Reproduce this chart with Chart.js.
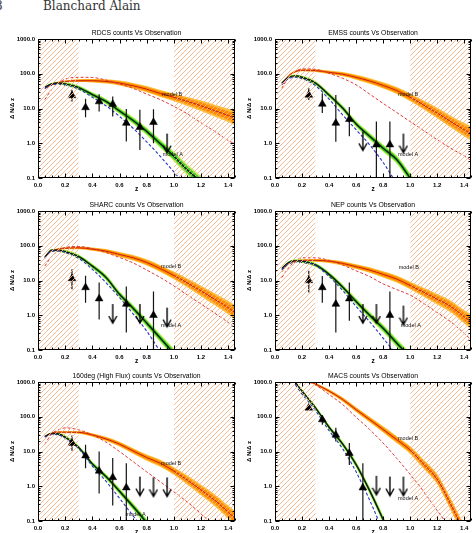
<!DOCTYPE html>
<html>
<head>
<meta charset="utf-8">
<script src="https://cdn.jsdelivr.net/npm/chart.js"></script>
<style>
  body { margin: 0; width: 476px; height: 533px; overflow: hidden; position: relative; background: #fff; }
  canvas { position: absolute; }
  .hdr { position: absolute; top: 0; font: 12px "DejaVu Serif", serif; color: #333; line-height: 12px; white-space: nowrap; }
</style>
</head>
<body>
<div class="hdr" style="left:-5px">8</div>
<div class="hdr" style="left:43px">Blanchard Alain</div>
<canvas id="c0" width="240" height="167" style="left:0;top:26px"></canvas>
<canvas id="c1" width="236" height="167" style="left:240px;top:26px"></canvas>
<canvas id="c2" width="240" height="167" style="left:0;top:198px"></canvas>
<canvas id="c3" width="236" height="167" style="left:240px;top:198px"></canvas>
<canvas id="c4" width="240" height="167" style="left:0;top:369px"></canvas>
<canvas id="c5" width="236" height="167" style="left:240px;top:369px"></canvas>
<script>
// redshift grid for the model curves
const Z = [0.05, 0.1, 0.15, 0.2, 0.3, 0.4, 0.5, 0.6, 0.7, 0.8, 0.9, 1.0, 1.1, 1.2, 1.3, 1.4, 1.45];

// band half widths (dex)
const bandA = [0.03, 0.03, 0.04, 0.05, 0.06, 0.07, 0.08, 0.09, 0.1, 0.11, 0.12, 0.14, 0.16, 0.18, 0.2, 0.22, 0.22];
const bandB = [0.02, 0.02, 0.03, 0.03, 0.04, 0.05, 0.06, 0.07, 0.08, 0.09, 0.1, 0.11, 0.13, 0.15, 0.17, 0.19, 0.21];

const xTicks = [0, 0.2, 0.4, 0.6, 0.8, 1.0, 1.2, 1.4];
const xMinor = [0.05, 0.1, 0.15, 0.25, 0.3, 0.35, 0.45, 0.5, 0.55, 0.65, 0.7, 0.75, 0.85, 0.9, 0.95, 1.05, 1.1, 1.15, 1.25, 1.3, 1.35, 1.45];
const yTicks = [0.1, 1, 10, 100, 1000];
const yMinor = [0.2, 0.3, 0.4, 0.5, 0.6, 0.7, 0.8, 0.9, 2, 3, 4, 5, 6, 7, 8, 9, 20, 30, 40, 50, 60, 70, 80, 90, 200, 300, 400, 500, 600, 700, 800, 900];
const hatchLeft = [0, 0.3];
const hatchRight = [1.0, 1.45];

// RDCS
const rdcsB = [38, 48, 56, 60, 63, 63, 60, 54, 45, 36, 27, 21, 16, 12, 8.7, 6.3, 5.3];
const rdcsRed = [18, 35, 54, 70, 79, 78, 66, 51, 38, 26, 18, 11.5, 7.0, 3.9, 2.2, 1.2, 0.95];
const rdcsA = [41, 51, 54, 51, 40, 25, 16, 8.5, 4.5, 2.2, 0.97, 0.42, 0.17, 0.075, 0.03, 0.012, 0.008];
const rdcsBlue = [38, 47, 50, 47, 36, 21, 12, 5.9, 2.7, 1.1, 0.42, 0.15, 0.05, 0.015, 0.005, 0.002, 0.001];
const rdcsZ = [0.25, 0.35, 0.45, 0.55, 0.65, 0.75, 0.85];
const rdcsV = [23.6, 10.7, 15.8, 13.3, 3.8, 2.9, 4.0];
const rdcsHi = [34, 19, 25.7, 22, 9.6, 9.2, 9.5];
const rdcsLo = [15.8, 5.6, 8.2, 5.9, 1.13, 0.64, 1.0];
const rdcsUlZ = [0.95];
const rdcsUlV = [1.9];

// EMSS
const emssB = [48, 87, 115, 126, 123, 110, 97, 79, 62, 46, 33, 21, 12.6, 7.4, 4.2, 2.45, 1.9];
const emssRed = [38, 79, 115, 138, 134, 103, 74, 48, 26, 14, 7.7, 4.2, 2.3, 1.26, 0.72, 0.43, 0.32];
const emssA = [54, 79, 87, 79, 54, 24.5, 10.3, 3.6, 1.6, 0.72, 0.34, 0.1, 0.03, 0.01, 0.003, 0.001, 0.0005];
const emssBlue = [50, 72, 79, 72, 45, 18.6, 6.6, 2.45, 0.9, 0.28, 0.07, 0.02, 0.006, 0.002, 0.001, 0.0005, 0.0003];
const emssZ = [0.25, 0.35, 0.45, 0.55, 0.75, 0.85];
const emssV = [24.5, 13.5, 3.8, 4.9, 0.91, 0.91];
const emssHi = [38, 27.5, 24.5, 11, 4.2, 4.2];
const emssLo = [17.7, 7.4, 1.1, 1.6, 0.03, 0.03];
const emssUlZ = [0.65, 0.95];
const emssUlV = [2.2, 1.9];

// SHARC
const sharcB = [49, 69, 80, 85, 87, 80, 70, 56, 45, 33, 22, 14, 8.5, 5, 2.9, 1.66, 1.2];
const sharcRed = [26, 49, 72, 89, 95, 83, 64, 46, 32, 20, 12.2, 7.0, 3.8, 2.1, 1.15, 0.62, 0.44];
const sharcA = [46, 75, 74, 68, 49, 26, 12.3, 4.0, 1.6, 0.6, 0.22, 0.08, 0.03, 0.01, 0.004, 0.001, 0.0005];
const sharcBlue = [44, 70, 70, 64, 43, 21, 8.7, 3.2, 1.1, 0.35, 0.09, 0.025, 0.008, 0.003, 0.001, 0.0005, 0.0003];
const sharcZ = [0.25, 0.35, 0.45, 0.65, 0.85];
const sharcV = [11.4, 6.3, 3.0, 2.1, 1.0];
const sharcHi = [21, 13.6, 8.7, 6.7, 4.8];
const sharcLo = [5.6, 2.3, 0.76, 0.32, 0.03];
const sharcUlZ = [0.55, 0.75, 0.95];
const sharcUlV = [2.1, 2.1, 1.66];

// NEP
const nepB = [18, 30, 36, 38, 38, 36, 31, 25, 20, 15, 11, 7.2, 4.6, 2.9, 1.8, 0.9, 0.66];
const nepRed = [12, 23, 36, 45, 45, 38, 28, 19, 13, 8, 5.5, 3.8, 2.2, 1.2, 0.65, 0.3, 0.2];
const nepA = [22, 33, 37, 36, 28, 15, 6.5, 2.5, 1.0, 0.42, 0.16, 0.06, 0.02, 0.007, 0.002, 0.001, 0.0005];
const nepBlue = [20, 30, 34, 33, 27, 13, 5.2, 1.8, 0.65, 0.22, 0.07, 0.02, 0.006, 0.002, 0.001, 0.0005, 0.0003];
const nepZ = [0.25, 0.35, 0.45, 0.55, 0.85];
const nepV = [10, 6.3, 2.1, 3.0, 1.0];
const nepHi = [19, 13.5, 9.8, 8.7, 4.8];
const nepLo = [4.5, 2.3, 0.32, 0.7, 0.03];
const nepUlZ = [0.65, 0.75, 0.95];
const nepUlV = [2.1, 2.1, 1.9];

// 160deg (High Flux)
const degB = [27, 34, 36, 36, 35.6, 30, 23, 16.3, 10.4, 6.7, 4.6, 2.75, 1.5, 0.78, 0.4, 0.18, 0.12];
const degRed = [16, 32, 42, 48, 42, 30, 18.7, 10, 5.1, 2.6, 1.35, 0.69, 0.35, 0.16, 0.07, 0.03, 0.02];
const degA = [27, 33, 32, 26, 13, 4.4, 1.9, 0.72, 0.26, 0.09, 0.03, 0.01, 0.003, 0.001, 0.0005, 0.0003, 0.0002];
const degBlue = [26, 31, 30, 24, 12, 3.8, 1.4, 0.45, 0.14, 0.045, 0.015, 0.005, 0.002, 0.001, 0.0005, 0.0003, 0.0002];
const degZ = [0.25, 0.35, 0.45, 0.55, 0.65];
const degV = [17.4, 7.6, 2.75, 1.8, 0.91];
const degHi = [29, 15.6, 10, 6.5, 4.6];
const degLo = [10.5, 3.3, 0.62, 0.28, 0.03];
const degUlZ = [0.75, 0.85, 0.95];
const degUlV = [1.9, 1.8, 1.8];

// MACS
const macsB = [2500, 2100, 1700, 1350, 870, 550, 315, 160, 83, 43, 22, 11, 4.3, 1.6, 0.3, 0.05, 0.02];
const macsRed = [4000, 3000, 2000, 1300, 820, 440, 225, 97, 43, 17.5, 6.4, 2.2, 0.7, 0.2, 0.06, 0.02, 0.01];
const macsA = [6000, 2500, 1000, 550, 180, 50, 16.5, 4.2, 0.75, 0.11, 0.015, 0.002, 0.0005, 0.0002, 0.0001, 0.0001, 0.0001];
const macsBlue = [5000, 2000, 850, 450, 150, 40, 12, 2.6, 0.4, 0.05, 0.006, 0.001, 0.0005, 0.0002, 0.0001, 0.0001, 0.0001];
const macsZ = [0.25, 0.35, 0.45, 0.55, 0.65];
const macsV = [180, 83, 30, 8.9, 0.91];
const macsHi = [200, 108, 48, 17.5, 4.6];
const macsLo = [160, 59, 19.5, 4.1, 0.03];
const macsUlZ = [0.75, 0.85, 0.95];
const macsUlV = [2.0, 1.9, 1.9];

const panels = [
  { id: 'c0', title: 'RDCS counts Vs Observation', A: rdcsA, B: rdcsB, red: rdcsRed, blue: rdcsBlue,
    pz: rdcsZ, pv: rdcsV, hi: rdcsHi, lo: rdcsLo, uz: rdcsUlZ, uv: rdcsUlV, labB: [0.913, 25], labA: [0.918, 0.48] },
  { id: 'c1', title: 'EMSS counts Vs Observation', A: emssA, B: emssB, red: emssRed, blue: emssBlue,
    pz: emssZ, pv: emssV, hi: emssHi, lo: emssLo, uz: emssUlZ, uv: emssUlV, labB: [0.91, 24.5], labA: [0.91, 0.49] },
  { id: 'c2', title: 'SHARC counts Vs Observation', A: sharcA, B: sharcB, red: sharcRed, blue: sharcBlue,
    pz: sharcZ, pv: sharcV, hi: sharcHi, lo: sharcLo, uz: sharcUlZ, uv: sharcUlV, labB: [0.906, 25], labA: [0.906, 0.5] },
  { id: 'c3', title: 'NEP counts Vs Observation', A: nepA, B: nepB, red: nepRed, blue: nepBlue,
    pz: nepZ, pv: nepV, hi: nepHi, lo: nepLo, uz: nepUlZ, uv: nepUlV, labB: [0.915, 23], labA: [0.93, 0.52] },
  { id: 'c4', title: '160deg (High Flux) counts Vs Observation', A: degA, B: degB, red: degRed, blue: degBlue,
    pz: degZ, pv: degV, hi: degHi, lo: degLo, uz: degUlZ, uv: degUlV, labB: [0.906, 4.6], labA: [0.644, 0.155] },
  { id: 'c5', title: 'MACS counts Vs Observation', A: macsA, B: macsB, red: macsRed, blue: macsBlue,
    pz: macsZ, pv: macsV, hi: macsHi, lo: macsLo, uz: macsUlZ, uv: macsUlV, labB: [0.91, 24], labA: [0.91, 0.45] }
];

function makeHatch(ctx) {
  const s = 5;
  const c = document.createElement('canvas');
  c.width = s; c.height = s;
  const g = c.getContext('2d');
  g.strokeStyle = '#f5b48a';
  g.lineWidth = 0.9;
  g.beginPath();
  g.moveTo(0, s); g.lineTo(s, 0);
  g.moveTo(-1, 1); g.lineTo(1, -1);
  g.moveTo(s - 1, s + 1); g.lineTo(s + 1, s - 1);
  g.stroke();
  return ctx.createPattern(c, 'repeat');
}

function makeArrow() {
  const c = document.createElement('canvas');
  c.width = 10; c.height = 42;
  const g = c.getContext('2d');
  g.strokeStyle = '#000';
  g.lineWidth = 1.4;
  g.beginPath();
  g.moveTo(5, 21); g.lineTo(5, 40);
  g.moveTo(1, 33); g.lineTo(5, 40); g.lineTo(9, 33);
  g.stroke();
  return c;
}
const arrowImg = makeArrow();

const decor = {
  id: 'decor',
  afterDraw(chart, args, o) {
    const { ctx, chartArea: a, scales: { x, y } } = chart;
    ctx.save();
    ctx.strokeStyle = '#000';
    ctx.lineWidth = 1;
    const L = Math.round(a.left) + 0.5, R = Math.round(a.right) - 0.5;
    const T = Math.round(a.top) + 0.5, B = Math.round(a.bottom) - 0.5;
    ctx.strokeRect(L, T, R - L, B - T);
    ctx.beginPath();
    const xt = (v, len) => {
      const px = Math.round(x.getPixelForValue(v)) + 0.5;
      ctx.moveTo(px, B); ctx.lineTo(px, B - len);
      ctx.moveTo(px, T); ctx.lineTo(px, T + len);
    };
    const yt = (v, len) => {
      const py = Math.round(y.getPixelForValue(v)) + 0.5;
      ctx.moveTo(L, py); ctx.lineTo(L + len, py);
      ctx.moveTo(R, py); ctx.lineTo(R - len, py);
    };
    xTicks.forEach(v => xt(v, 4));
    xMinor.forEach(v => xt(v, 2));
    yTicks.forEach(v => yt(v, 4));
    yMinor.forEach(v => yt(v, 2));
    ctx.stroke();

    ctx.fillStyle = '#000';
    ctx.textBaseline = 'middle';
    ctx.textAlign = 'center';
    ctx.font = '6.8px "Liberation Sans", sans-serif';
    ctx.fillText(o.title, (a.left + a.right) / 2, a.top - 6);

    ctx.textAlign = 'left';
    ctx.font = '5.5px "Liberation Sans", sans-serif';
    ctx.fillStyle = '#111';
    ctx.fillText('model B', x.getPixelForValue(o.labB[0]), y.getPixelForValue(o.labB[1]));
    ctx.fillText('model A', x.getPixelForValue(o.labA[0]), y.getPixelForValue(o.labA[1]));
    ctx.restore();
  }
};

function buildChart(p, idx) {
  const canvas = document.getElementById(p.id);
  const ctx = canvas.getContext('2d');
  const hatch = makeHatch(ctx);
  const leftCol = idx % 2 === 0;

  const line = arr => Z.map((z, i) => ({ x: z, y: arr[i] }));
  const edge = (arr, w, k) => Z.map((z, i) => ({ x: z, y: arr[i] * Math.pow(10, w[i] * k) }));
  const hatchPts = r => r.map(z => ({ x: z, y: 1000 }));
  const errPts = [];
  p.pz.forEach((z, i) => {
    errPts.push({ x: z, y: p.lo[i] }, { x: z, y: p.hi[i] }, { x: z, y: null });
  });

  const band = (data, color, order, fill) => ({
    data, fill: fill ? '+1' : false, backgroundColor: color, borderColor: 'transparent', borderWidth: 0, order
  });

  const datasets = [
    { data: hatchPts(hatchLeft), fill: 'start', backgroundColor: hatch, borderWidth: 0, borderColor: 'transparent', tension: 0, order: 0 },
    { data: hatchPts(hatchRight), fill: 'start', backgroundColor: hatch, borderWidth: 0, borderColor: 'transparent', tension: 0, order: 0 },
    { data: p.uz.map((z, i) => ({ x: z, y: p.uv[i] })), showLine: false, pointStyle: arrowImg, pointRadius: 3, order: 1 },
    { data: p.pz.map((z, i) => ({ x: z, y: p.pv[i] })), showLine: false, pointStyle: 'triangle', pointRadius: 4.5,
      backgroundColor: '#000', borderColor: '#000', borderWidth: 0.5, order: 2 },
    { data: errPts, borderColor: '#141414', borderWidth: 1.2, spanGaps: false, tension: 0, order: 3 },
    { data: line(p.red), borderColor: '#e2383a', borderDash: [3, 2], borderWidth: 1, order: 4 },
    { data: line(p.blue), borderColor: '#2a36c0', borderDash: [3, 2], borderWidth: 1.1, order: 4 },
    { data: line(p.A), borderColor: '#101810', borderWidth: 1.4, order: 5 },
    { data: line(p.B), borderColor: '#c81e10', borderWidth: 1, order: 5 },
    band(edge(p.A, bandA, 0.65), '#36d42a', 6, true),
    band(edge(p.A, bandA, -0.65), '#36d42a', 6, false),
    band(edge(p.A, bandA, 1), '#c6f058', 7, true),
    band(edge(p.A, bandA, -1), '#c6f058', 7, false),
    band(edge(p.B, bandB, 0.65), '#ff8c00', 8, true),
    band(edge(p.B, bandB, -0.65), '#ff8c00', 8, false),
    band(edge(p.B, bandB, 1), '#ffbe30', 9, true),
    band(edge(p.B, bandB, -1), '#ffbe30', 9, false)
  ];

  const tickFont = { size: 6, weight: 'bold', family: '"Liberation Sans", sans-serif' };

  new Chart(canvas, {
    type: 'line',
    data: { datasets },
    options: {
      responsive: false,
      animation: false,
      events: [],
      layout: { padding: { top: 13, right: leftCol ? 4 : 3, left: 0, bottom: 0 } },
      elements: {
        point: { radius: 0, hoverRadius: 0 },
        line: { cubicInterpolationMode: 'monotone' }
      },
      plugins: {
        legend: { display: false },
        tooltip: { enabled: false },
        decor: { title: p.title, labB: p.labB, labA: p.labA }
      },
      scales: {
        x: {
          type: 'linear', min: 0, max: 1.45,
          afterBuildTicks: s => { s.ticks = xTicks.map(v => ({ value: v })); },
          afterFit: s => { s.height = 15; },
          grid: { display: false, drawTicks: false },
          border: { display: false },
          ticks: { padding: 3.5, font: tickFont, color: '#000', maxRotation: 0, autoSkip: false, callback: v => Number(v).toFixed(1) },
          title: { display: true, text: 'z', font: { size: 6.5, weight: 'bold', family: '"Liberation Sans", sans-serif' }, color: '#000', padding: 0 }
        },
        y: {
          type: 'logarithmic', min: 0.1, max: 1000,
          afterBuildTicks: s => { s.ticks = yTicks.map(v => ({ value: v })); },
          afterFit: s => { s.width = leftCol ? 38 : 35; },
          grid: { display: false, drawTicks: false },
          border: { display: false },
          ticks: { padding: 3, font: tickFont, color: '#000', autoSkip: false, callback: v => Number(v).toFixed(1) },
          title: { display: true, text: 'Δ N/Δ z', font: { size: 6, weight: 'bold', family: '"Liberation Sans", sans-serif' }, color: '#000',
                   padding: { top: leftCol ? 9 : 5.7, bottom: 0 } }
        }
      }
    },
    plugins: [decor]
  });
}

panels.forEach(buildChart);
</script>
</body>
</html>
